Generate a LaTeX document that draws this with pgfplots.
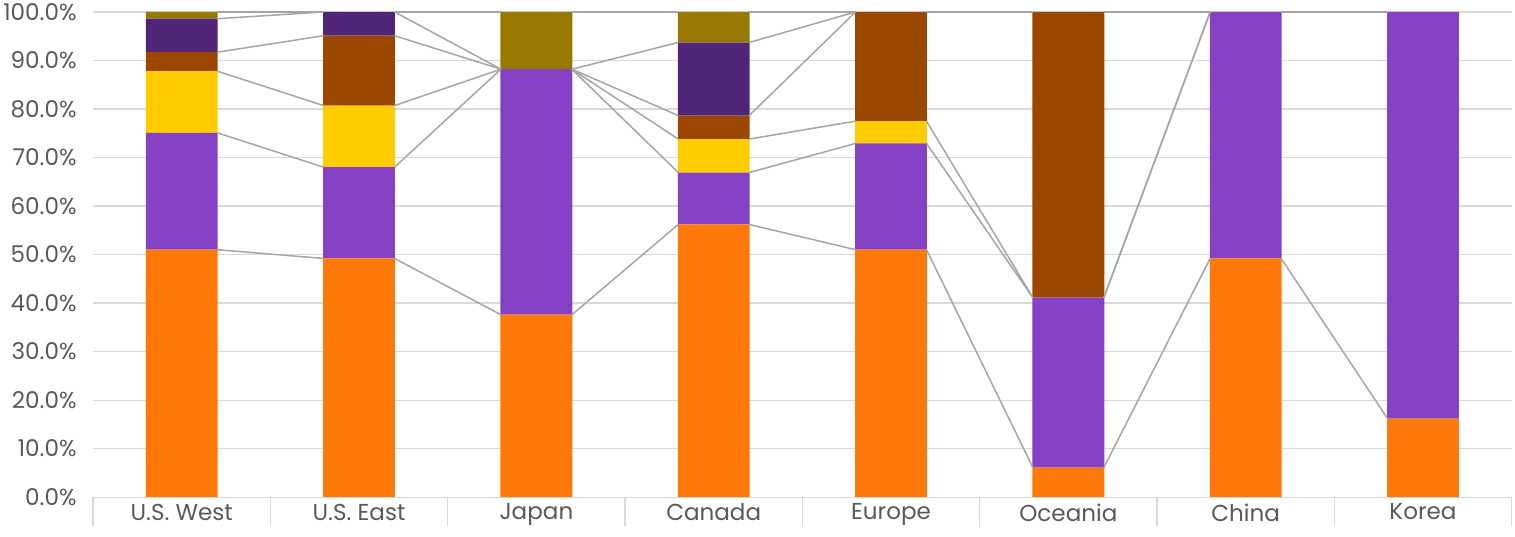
\documentclass[border=0pt]{standalone}
\usepackage{pgfplots}
\pgfplotsset{compat=1.18}
\usepackage{fontspec}
\setmainfont{Poppins}
\definecolor{cOr}{HTML}{FF780A}
\definecolor{cPu}{HTML}{8541C3}
\definecolor{cYe}{HTML}{FFCC00}
\definecolor{cBr}{HTML}{9B4700}
\definecolor{cDp}{HTML}{4F2577}
\definecolor{cOl}{HTML}{977800}
\definecolor{cGrid}{HTML}{D9D9D9}
\definecolor{cSer}{HTML}{A5A5A5}
\definecolor{cTxt}{HTML}{595959}
\begin{document}
\begin{tikzpicture}[font=\fontsize{23}{27}\selectfont]
\pgfplotsset{common/.style={
  scale only axis, width=1415pt, height=484pt,
  xmin=-0.5, xmax=7.5, ymin=0, ymax=100},
  sl/.style={draw=cSer, line width=1.5pt, mark=none, forget plot}}
\begin{axis}[common,
  ybar stacked, bar width=0.405,
  axis x line*=bottom, axis y line*=left,
  x axis line style={draw=cGrid, line width=1.2pt},
  y axis line style={draw=none},
  xtick={0,...,7},
  xticklabels={U.S. West,U.S. East,Japan,Canada,Europe,Oceania,China,Korea},
  major x tick style={draw=none},
  extra x ticks={-0.5,0.5,1.5,2.5,3.5,4.5,5.5,6.5,7.5},
  extra x tick labels={},
  extra x tick style={tick align=outside, major tick length=29pt,
     major x tick style={draw=cGrid, line width=1.2pt}, xmajorgrids=false},
  ytick={0,10,...,100},
  ytick style={draw=none},
  ymajorgrids, grid style={draw=cGrid, line width=1.2pt},
  yticklabel={\pgfmathprintnumber[fixed,fixed zerofill,precision=1]{\tick}\%},
  /pgf/number format/assume math mode=true,
  ticklabel style={text=cTxt},
  xticklabel style={yshift=-3pt},
  yticklabel style={xshift=-13pt},
]
\addplot[fill=cOr, draw=none] coordinates {(0,51.0) (1,49.2) (2,37.6) (3,56.2) (4,51.0) (5,6.1) (6,49.2) (7,16.2)};
\addplot[fill=cPu, draw=none] coordinates {(0,24.1) (1,18.8) (2,50.6) (3,10.7) (4,21.9) (5,35.0) (6,50.8) (7,83.8)};
\addplot[fill=cYe, draw=none] coordinates {(0,12.7) (1,12.7) (2,0) (3,6.9) (4,4.6) (5,0) (6,0) (7,0)};
\addplot[fill=cBr, draw=none] coordinates {(0,3.9) (1,14.4) (2,0) (3,4.85) (4,22.5) (5,58.9) (6,0) (7,0)};
\addplot[fill=cDp, draw=none] coordinates {(0,6.9) (1,4.9) (2,0) (3,15.05) (4,0) (5,0) (6,0) (7,0)};
\addplot[fill=cOl, draw=none] coordinates {(0,1.4) (1,0) (2,11.8) (3,6.3) (4,0) (5,0) (6,0) (7,0)};
\end{axis}
\begin{axis}[common, hide axis, unbounded coords=jump, clip=false]
% series lines (cumulative tops, from right edge of one bar to left edge of next)
\addplot[sl] coordinates {(0.2,51.0)(0.8,49.2) (0.8,nan) (1.2,49.2)(1.8,37.6) (1.8,nan) (2.2,37.6)(2.8,56.2) (2.8,nan) (3.2,56.2)(3.8,51.0) (3.8,nan) (4.2,51.0)(4.8,6.1) (4.8,nan) (5.2,6.1)(5.8,49.2) (5.8,nan) (6.2,49.2)(6.8,16.2)};
\addplot[sl] coordinates {(0.2,75.1)(0.8,68.0) (0.8,nan) (1.2,68.0)(1.8,88.2) (1.8,nan) (2.2,88.2)(2.8,66.9) (2.8,nan) (3.2,66.9)(3.8,72.9) (3.8,nan) (4.2,72.9)(4.8,41.1) (4.8,nan) (5.2,41.1)(5.8,100) (5.8,nan) (6.2,100)(6.8,100)};
\addplot[sl] coordinates {(0.2,87.8)(0.8,80.7) (0.8,nan) (1.2,80.7)(1.8,88.2) (1.8,nan) (2.2,88.2)(2.8,73.8) (2.8,nan) (3.2,73.8)(3.8,77.5) (3.8,nan) (4.2,77.5)(4.8,41.1) (4.8,nan) (5.2,41.1)(5.8,100) (5.8,nan) (6.2,100)(6.8,100)};
\addplot[sl] coordinates {(0.2,91.7)(0.8,95.1) (0.8,nan) (1.2,95.1)(1.8,88.2) (1.8,nan) (2.2,88.2)(2.8,78.65) (2.8,nan) (3.2,78.65)(3.8,100) (3.8,nan) (4.2,100)(4.8,100) (4.8,nan) (5.2,100)(5.8,100) (5.8,nan) (6.2,100)(6.8,100)};
\addplot[sl] coordinates {(0.2,98.6)(0.8,100) (0.8,nan) (1.2,100)(1.8,88.2) (1.8,nan) (2.2,88.2)(2.8,93.7) (2.8,nan) (3.2,93.7)(3.8,100) (3.8,nan) (4.2,100)(4.8,100) (4.8,nan) (5.2,100)(5.8,100) (5.8,nan) (6.2,100)(6.8,100)};
\addplot[sl] coordinates {(0.2,100)(0.8,100) (0.8,nan) (1.2,100)(1.8,100) (1.8,nan) (2.2,100)(2.8,100) (2.8,nan) (3.2,100)(3.8,100) (3.8,nan) (4.2,100)(4.8,100) (4.8,nan) (5.2,100)(5.8,100) (5.8,nan) (6.2,100)(6.8,100)};
\end{axis}
\end{tikzpicture}
\end{document}
